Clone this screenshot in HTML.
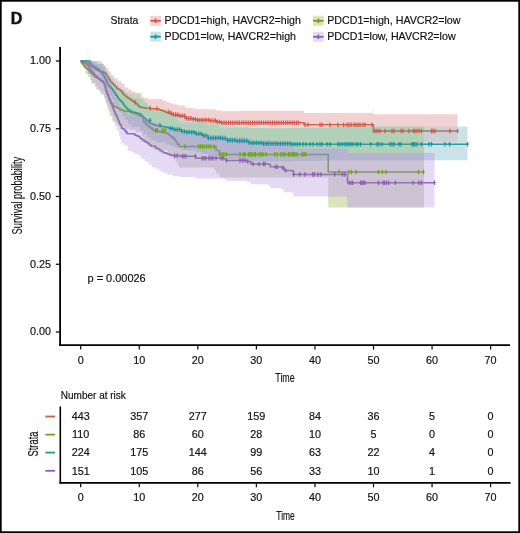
<!DOCTYPE html>
<html><head><meta charset="utf-8"><style>
html,body{margin:0;padding:0;background:#fff;width:520px;height:533px;overflow:hidden;position:relative}
</style></head><body>
<svg width="520" height="533" viewBox="0 0 520 533" style="position:absolute;left:0;top:0;will-change:transform">
<rect x="0" y="0" width="520" height="533" fill="#fff"/>
<path d="M80.70,61.00 H86.50 V61.50 H87.23 V62.78 H88.68 V64.06 H90.12 V65.35 H91.58 V66.63 H93.01 V67.60 H94.44 V68.56 H95.86 V69.53 H97.29 V70.50 H98.78 V70.90 H100.35 V71.30 H101.92 V71.70 H103.58 V72.85 H105.33 V74.00 H106.58 V75.33 H107.35 V76.67 H108.12 V78.00 H109.08 V79.75 H110.22 V81.50 H111.65 V83.25 H113.35 V85.00 H115.08 V86.70 H116.83 V88.40 H118.58 V89.55 H120.33 V90.70 H121.77 V92.23 H122.90 V93.77 H124.03 V95.30 H125.45 V96.50 H127.15 V97.70 H128.88 V98.85 H130.62 V100.00 H132.38 V101.15 H134.12 V102.30 H135.62 V103.45 H136.88 V104.60 H138.12 V105.75 H139.38 V106.90 H140.70 V107.18 H142.10 V107.46 H143.50 V107.74 H144.90 V108.02 H146.30 V108.30 H150.40 V108.69 H157.30 V108.80 H157.95 V109.25 H159.25 V109.70 H160.55 V110.15 H161.85 V110.60 H163.38 V111.30 H165.12 V112.00 H166.85 V112.60 H168.55 V113.20 H170.00 V113.63 H171.20 V114.07 H172.40 V114.50 H173.62 V114.83 H174.88 V115.15 H176.12 V115.47 H177.38 V115.80 H185.00 V118.40 H192.00 V119.20 H197.00 V120.00 H209.20 V120.60 H216.00 V121.80 H221.30 V122.70 H304.00 V124.70 H373.40 V131.00 H457.50" fill="none" stroke="#D7574B" stroke-width="1.50"/>
<path d="M80.70,61.00 H81.35 V62.70 H82.57 V64.23 H83.70 V65.77 H84.83 V67.30 H85.98 V68.15 H87.12 V69.00 H88.28 V70.33 H89.45 V71.67 H90.62 V73.00 H91.97 V74.37 H93.50 V75.73 H95.03 V77.10 H96.57 V77.87 H98.10 V78.63 H99.63 V79.40 H101.25 V80.95 H102.95 V82.50 H104.03 V83.90 H104.47 V85.30 H104.92 V86.70 H105.38 V88.10 H105.84 V89.52 H106.31 V90.95 H106.79 V92.38 H107.26 V93.80 H107.74 V95.20 H108.21 V96.60 H108.69 V98.00 H109.16 V99.40 H109.87 V100.97 H110.80 V102.53 H111.73 V104.10 H113.15 V106.00 H114.72 V106.63 H115.95 V107.27 H117.18 V107.90 H118.43 V108.50 H119.70 V109.10 H120.97 V109.70 H122.23 V110.20 H123.50 V110.70 H124.77 V111.20 H130.00 V112.10 H130.71 V112.45 H132.14 V112.80 H133.56 V113.15 H134.99 V113.50 H136.42 V114.25 H137.88 V115.00 H139.33 V115.75 H140.78 V116.50 H142.30 V117.70 H143.50 V121.20 H144.07 V122.35 H145.23 V123.50 H146.38 V124.65 H147.53 V125.80 H148.95 V126.95 H150.65 V128.10 H152.07 V129.25 H153.23 V130.40 H154.50 V130.69 H155.89 V130.98 H157.28 V131.27 H158.67 V131.56 H160.06 V131.85 H161.44 V132.14 H162.84 V132.43 H164.22 V132.72 H165.62 V133.01 H167.00 V133.30 H168.27 V134.45 H169.43 V135.60 H170.88 V136.75 H172.62 V137.90 H174.07 V139.35 H175.23 V140.80 H176.35 V142.50 H177.45 V144.20 H179.20 V146.50 H214.40 V146.60 H216.10 V150.40 H219.60 V154.40 H328.20 V172.00 H424.00" fill="none" stroke="#6EA51E" stroke-width="1.50"/>
<path d="M80.70,61.00 H90.00 V62.10 H90.58 V63.77 H91.72 V65.43 H93.01 V66.27 H94.44 V67.12 H95.86 V67.96 H97.29 V68.80 H98.88 V70.55 H100.62 V72.30 H102.08 V74.00 H103.22 V75.70 H104.20 V77.23 H105.00 V78.77 H105.80 V80.30 H106.58 V81.87 H107.35 V83.43 H108.12 V85.00 H109.35 V86.70 H111.05 V88.40 H112.48 V90.15 H113.62 V91.90 H114.77 V93.60 H115.92 V95.30 H117.08 V97.05 H118.22 V98.80 H119.67 V100.55 H121.42 V102.30 H122.87 V104.00 H124.02 V105.70 H125.45 V107.45 H127.15 V109.20 H128.88 V110.35 H130.62 V111.50 H132.21 V111.88 H133.62 V112.27 H135.04 V112.65 H136.46 V113.03 H137.88 V113.42 H139.29 V113.80 H140.88 V115.55 H142.62 V117.30 H144.38 V118.85 H146.12 V120.40 H147.85 V121.90 H149.55 V123.39 H151.05 V123.87 H152.35 V124.34 H153.65 V124.82 H154.95 V125.30 H156.34 V125.54 H157.83 V125.79 H159.31 V126.03 H160.80 V126.27 H162.29 V126.51 H163.77 V126.76 H165.26 V127.00 H166.67 V127.43 H168.00 V127.87 H169.33 V128.30 H170.77 V128.73 H172.30 V129.17 H173.83 V129.60 H181.50 V131.50 H186.00 V132.20 H196.00 V133.70 H202.00 V135.60 H208.00 V138.00 H221.50 V138.50 H227.30 V140.40 H235.00 V141.00 H248.70 V142.80 H262.50 V143.60 H292.00 V144.20 H467.50" fill="none" stroke="#1A969F" stroke-width="1.50"/>
<path d="M80.70,61.00 H81.58 V61.85 H83.33 V62.70 H85.08 V63.85 H86.83 V65.00 H88.27 V66.75 H89.42 V68.50 H90.58 V70.20 H91.72 V71.90 H92.87 V73.05 H94.02 V74.20 H95.45 V75.95 H97.15 V77.70 H98.65 V78.83 H99.95 V79.97 H101.25 V81.10 H102.85 V82.50 H104.70 V85.30 H105.60 V89.10 H105.92 V90.67 H106.55 V92.23 H107.18 V93.80 H107.82 V95.37 H108.45 V96.93 H109.08 V98.50 H109.72 V100.07 H110.35 V101.63 H110.98 V103.20 H111.60 V104.77 H112.20 V106.33 H112.80 V107.90 H113.42 V109.47 H114.05 V111.03 H114.68 V112.60 H115.32 V113.83 H115.95 V115.07 H116.58 V116.30 H117.22 V117.87 H117.85 V119.43 H118.48 V121.00 H119.03 V122.27 H119.50 V123.53 H119.97 V124.80 H121.30 V127.90 H122.03 V128.55 H123.47 V129.20 H124.78 V130.70 H125.95 V132.20 H127.12 V133.70 H134.60 V134.80 H135.37 V135.37 H136.90 V135.93 H138.43 V136.50 H139.77 V137.65 H140.93 V138.80 H142.38 V140.00 H144.12 V141.20 H145.88 V142.35 H147.62 V143.50 H149.38 V144.90 H151.12 V146.30 H155.40 V147.50 H156.25 V148.35 H157.95 V149.20 H159.80 V150.40 H161.60 V151.45 H163.20 V152.50 H164.62 V152.93 H165.85 V153.37 H167.08 V153.80 H168.35 V154.25 H169.65 V154.70 H170.95 V155.15 H172.25 V155.60 H180.00 V156.30 H195.60 V158.20 H224.00 V158.70 H226.00 V160.40 H247.00 V161.50 H250.80 V164.00 H268.00 V164.20 H270.30 V166.80 H281.50 V167.80 H284.00 V170.50 H292.50 V171.00 H293.50 V174.40 H347.50 V174.30 V182.70 H434.50" fill="none" stroke="#8C5FB4" stroke-width="1.50"/>
<path d="M80.70,61.00 L82.00,61.00 L82.00,61.00 L85.00,61.00 L85.00,61.00 L85.40,61.00 L85.40,61.00 L87.70,61.00 L87.70,61.00 L91.20,61.00 L91.20,62.89 L92.00,62.89 L92.00,62.42 L95.80,62.42 L95.80,64.16 L100.00,64.16 L100.00,61.33 L100.40,61.33 L100.40,63.62 L103.80,63.62 L103.80,65.55 L105.60,65.55 L105.60,70.83 L107.50,70.83 L107.50,76.21 L109.40,76.21 L109.40,81.51 L110.00,81.51 L110.00,81.28 L112.20,81.28 L112.20,86.08 L114.10,86.08 L114.10,87.90 L117.80,87.90 L117.80,89.50 L121.60,89.50 L121.60,90.99 L125.40,90.99 L125.40,92.16 L130.00,92.16 L130.00,92.59 L135.70,92.59 L135.70,93.09 L141.50,93.09 L141.50,95.35 L142.30,95.35 L142.30,96.52 L143.50,96.52 L143.50,100.16 L145.80,100.16 L145.80,102.29 L148.10,102.29 L148.10,104.44 L150.00,104.44 L150.00,104.11 L151.50,104.11 L151.50,106.43 L153.80,106.43 L153.80,108.63 L167.70,108.63 L167.70,109.79 L170.00,109.79 L170.00,112.03 L173.50,112.03 L173.50,114.10 L175.80,114.10 L175.80,117.02 L178.00,117.02 L178.00,120.54 L179.20,120.54 L179.20,122.96 L180.00,122.96 L180.00,122.85 L214.40,122.85 L214.40,119.33 L216.10,119.33 L216.10,123.52 L219.60,123.52 L219.60,127.75 L220.00,127.75 L220.00,127.71 L328.00,127.71 L328.00,125.56 L328.20,125.56 L328.20,132.67 L328.30,132.67 L328.30,126.35 L424.00,126.35 L424.00,126.35 L424.00,207.52 L424.00,207.52 L328.30,207.52 L328.30,203.57 L328.20,203.57 L328.20,179.21 L328.00,179.21 L328.00,177.60 L220.00,177.60 L220.00,177.57 L219.60,177.57 L219.60,173.82 L216.10,173.82 L216.10,170.37 L214.40,170.37 L214.40,167.48 L180.00,167.48 L180.00,167.39 L179.20,167.39 L179.20,165.22 L178.00,165.22 L178.00,161.95 L175.80,161.95 L175.80,159.10 L173.50,159.10 L173.50,156.64 L170.00,156.64 L170.00,154.32 L167.70,154.32 L167.70,150.05 L153.80,150.05 L153.80,147.69 L151.50,147.69 L151.50,145.42 L150.00,145.42 L150.00,145.16 L148.10,145.16 L148.10,142.75 L145.80,142.75 L145.80,140.33 L143.50,140.33 L143.50,136.97 L142.30,136.97 L142.30,135.76 L141.50,135.76 L141.50,132.16 L135.70,132.16 L135.70,130.02 L130.00,130.02 L130.00,128.73 L125.40,128.73 L125.40,126.96 L121.60,126.96 L121.60,124.90 L117.80,124.90 L117.80,122.76 L114.10,122.76 L114.10,120.80 L112.20,120.80 L112.20,116.21 L110.00,116.21 L110.00,116.02 L109.40,116.02 L109.40,110.18 L107.50,110.18 L107.50,104.23 L105.60,104.23 L105.60,98.37 L103.80,98.37 L103.80,94.26 L100.40,94.26 L100.40,91.95 L100.00,91.95 L100.00,89.42 L95.80,89.42 L95.80,83.16 L92.00,83.16 L92.00,82.73 L91.20,82.73 L91.20,76.98 L87.70,76.98 L87.70,74.06 L85.40,74.06 L85.40,69.35 L85.00,69.35 L85.00,65.39 L82.00,65.39 L82.00,61.96 L80.70,61.96 Z" fill="#82A51A" fill-opacity="0.30" stroke="none"/>
<path d="M80.70,61.00 L85.00,61.00 L85.00,61.00 L90.00,61.00 L90.00,61.00 L92.30,61.00 L92.30,61.00 L98.00,61.00 L98.00,61.32 L101.50,61.32 L101.50,63.99 L103.80,63.99 L103.80,66.89 L105.00,66.89 L105.00,66.57 L106.20,66.57 L106.20,71.02 L108.50,71.02 L108.50,75.30 L111.90,75.30 L111.90,77.97 L114.20,77.97 L114.20,81.05 L116.50,81.05 L116.50,84.03 L118.80,84.03 L118.80,87.14 L120.00,87.14 L120.00,86.84 L122.30,86.84 L122.30,89.96 L124.60,89.96 L124.60,93.00 L128.00,93.00 L128.00,95.89 L130.00,95.89 L130.00,95.42 L131.50,95.42 L131.50,97.69 L140.00,97.69 L140.00,99.15 L143.50,99.15 L143.50,102.87 L147.00,102.87 L147.00,106.16 L150.40,106.16 L150.40,109.34 L155.60,109.34 L155.60,111.36 L166.00,111.36 L166.00,113.14 L170.00,113.14 L170.00,114.51 L174.60,114.51 L174.60,115.88 L180.00,115.88 L180.00,115.86 L181.50,115.86 L181.50,117.89 L186.00,117.89 L186.00,118.62 L196.00,118.62 L196.00,120.18 L200.00,120.18 L200.00,120.17 L202.00,120.17 L202.00,122.12 L208.00,122.12 L208.00,124.43 L215.00,124.43 L215.00,124.14 L221.50,124.14 L221.50,124.41 L227.30,124.41 L227.30,126.21 L230.00,126.21 L230.00,126.10 L235.00,126.10 L235.00,126.55 L248.70,126.55 L248.70,127.97 L262.00,127.97 L262.00,127.46 L262.50,127.46 L262.50,128.31 L292.00,128.31 L292.00,127.84 L300.00,127.84 L300.00,127.54 L330.00,127.54 L330.00,126.51 L467.50,126.51 L467.50,126.51 L467.50,160.36 L467.50,160.36 L330.00,160.36 L330.00,160.71 L300.00,160.71 L300.00,160.99 L292.00,160.99 L292.00,161.51 L262.50,161.51 L262.50,160.80 L262.00,160.80 L262.00,160.80 L248.70,160.80 L248.70,159.18 L235.00,159.18 L235.00,158.63 L230.00,158.63 L230.00,158.63 L227.30,158.63 L227.30,156.91 L221.50,156.91 L221.50,156.46 L215.00,156.46 L215.00,156.29 L208.00,156.29 L208.00,153.96 L202.00,153.96 L202.00,152.19 L200.00,152.19 L200.00,152.08 L196.00,152.08 L196.00,150.46 L186.00,150.46 L186.00,149.71 L181.50,149.71 L181.50,147.94 L180.00,147.94 L180.00,147.57 L174.60,147.57 L174.60,146.07 L170.00,146.07 L170.00,144.60 L166.00,144.60 L166.00,142.31 L155.60,142.31 L155.60,140.18 L150.40,140.18 L150.40,137.18 L147.00,137.18 L147.00,134.07 L143.50,134.07 L143.50,130.58 L140.00,130.58 L140.00,126.72 L131.50,126.72 L131.50,124.26 L130.00,124.26 L130.00,123.85 L128.00,123.85 L128.00,119.86 L124.60,119.86 L124.60,116.18 L122.30,116.18 L122.30,112.38 L120.00,112.38 L120.00,112.03 L118.80,112.03 L118.80,108.04 L116.50,108.04 L116.50,104.13 L114.20,104.13 L114.20,100.10 L111.90,100.10 L111.90,95.79 L108.50,95.79 L108.50,90.56 L106.20,90.56 L106.20,85.75 L105.00,85.75 L105.00,85.36 L103.80,85.36 L103.80,81.32 L101.50,81.32 L101.50,76.75 L98.00,76.75 L98.00,71.51 L92.30,71.51 L92.30,67.45 L90.00,67.45 L90.00,64.24 L85.00,64.24 L85.00,61.46 L80.70,61.46 Z" fill="#52A2AF" fill-opacity="0.30" stroke="none"/>
<path d="M80.70,61.00 L84.20,61.00 L84.20,61.00 L85.00,61.00 L85.00,61.00 L87.70,61.00 L87.70,61.00 L90.00,61.00 L90.00,61.00 L92.30,61.00 L92.30,61.00 L94.60,61.00 L94.60,61.21 L98.00,61.21 L98.00,64.07 L100.00,64.07 L100.00,63.59 L101.90,63.59 L101.90,67.09 L103.80,67.09 L103.80,68.47 L104.70,68.47 L104.70,71.39 L105.60,71.39 L105.60,75.36 L107.50,75.36 L107.50,80.24 L109.40,80.24 L109.40,85.12 L111.00,85.12 L111.00,85.05 L111.30,85.05 L111.30,89.86 L113.10,89.86 L113.10,93.93 L115.00,93.93 L115.00,97.99 L116.90,97.99 L116.90,101.01 L118.80,101.01 L118.80,105.14 L120.00,105.14 L120.00,104.56 L120.20,104.56 L120.20,108.56 L121.30,108.56 L121.30,111.40 L124.20,111.40 L124.20,111.48 L127.70,111.48 L127.70,114.79 L132.00,114.79 L132.00,112.84 L134.60,112.84 L134.60,113.43 L139.20,113.43 L139.20,114.20 L141.50,114.20 L141.50,116.21 L145.00,116.21 L145.00,118.06 L148.50,118.06 L148.50,119.82 L150.00,119.82 L150.00,119.47 L152.00,119.47 L152.00,122.41 L155.40,122.41 L155.40,123.41 L158.80,123.41 L158.80,124.98 L160.00,124.98 L160.00,124.86 L160.80,124.86 L160.80,126.22 L164.00,126.22 L164.00,128.60 L167.70,128.60 L167.70,130.07 L172.90,130.07 L172.90,132.11 L180.00,132.11 L180.00,132.91 L195.60,132.91 L195.60,135.06 L200.00,135.06 L200.00,135.06 L224.00,135.06 L224.00,135.34 L226.00,135.34 L226.00,137.25 L247.00,137.25 L247.00,138.25 L250.00,138.25 L250.00,138.22 L250.80,138.22 L250.80,140.98 L268.00,140.98 L268.00,139.52 L270.30,139.52 L270.30,142.28 L281.50,142.28 L281.50,142.35 L284.00,142.35 L284.00,145.22 L292.50,145.22 L292.50,144.99 L293.00,144.99 L293.00,144.94 L293.50,144.94 L293.50,148.84 L347.00,148.84 L347.00,143.13 L347.50,143.13 L347.50,153.08 L434.50,153.08 L434.50,153.08 L434.50,207.42 L434.50,207.42 L347.50,207.42 L347.50,200.49 L347.00,200.49 L347.00,196.39 L293.50,196.39 L293.50,193.43 L293.00,193.43 L293.00,193.39 L292.50,193.39 L292.50,192.35 L284.00,192.35 L284.00,189.84 L281.50,189.84 L281.50,188.15 L270.30,188.15 L270.30,185.71 L268.00,185.71 L268.00,184.25 L250.80,184.25 L250.80,181.99 L250.00,181.99 L250.00,181.96 L247.00,181.96 L247.00,180.80 L226.00,180.80 L226.00,179.28 L224.00,179.28 L224.00,178.62 L200.00,178.62 L200.00,178.62 L195.60,178.62 L195.60,176.95 L180.00,176.95 L180.00,176.33 L172.90,176.33 L172.90,174.74 L167.70,174.74 L167.70,173.59 L164.00,173.59 L164.00,171.74 L160.80,171.74 L160.80,170.68 L160.00,170.68 L160.00,170.58 L158.80,170.58 L158.80,168.81 L155.40,168.81 L155.40,167.46 L152.00,167.46 L152.00,164.82 L150.00,164.82 L150.00,164.54 L148.50,164.54 L148.50,161.83 L145.00,161.83 L145.00,159.02 L141.50,159.02 L141.50,156.52 L139.20,156.52 L139.20,154.08 L134.60,154.08 L134.60,152.57 L132.00,152.57 L132.00,150.96 L127.70,150.96 L127.70,145.50 L124.20,145.50 L124.20,143.16 L121.30,143.16 L121.30,139.86 L120.20,139.86 L120.20,136.25 L120.00,136.25 L120.00,135.75 L118.80,135.75 L118.80,130.58 L116.90,130.58 L116.90,126.30 L115.00,126.30 L115.00,121.05 L113.10,121.05 L113.10,115.80 L111.30,115.80 L111.30,111.22 L111.00,111.22 L111.00,111.15 L109.40,111.15 L109.40,106.63 L107.50,106.63 L107.50,102.10 L105.60,102.10 L105.60,98.47 L104.70,98.47 L104.70,95.78 L103.80,95.78 L103.80,94.37 L101.90,94.37 L101.90,91.07 L100.00,91.07 L100.00,90.64 L98.00,90.64 L98.00,86.56 L94.60,86.56 L94.60,83.86 L92.30,83.86 L92.30,80.10 L90.00,80.10 L90.00,73.81 L87.70,73.81 L87.70,68.05 L85.00,68.05 L85.00,67.20 L84.20,67.20 L84.20,61.77 L80.70,61.77 Z" fill="#AA88C4" fill-opacity="0.30" stroke="none"/>
<path d="M80.70,61.00 L84.20,61.00 L84.20,61.00 L85.00,61.00 L85.00,61.00 L87.70,61.00 L87.70,61.00 L90.00,61.00 L90.00,61.00 L92.30,61.00 L92.30,61.00 L94.60,61.00 L94.60,61.21 L98.00,61.21 L98.00,64.07 L100.00,64.07 L100.00,63.59 L101.90,63.59 L101.90,67.09 L103.80,67.09 L103.80,68.47 L104.70,68.47 L104.70,71.39 L105.60,71.39 L105.60,75.36 L107.50,75.36 L107.50,80.24 L109.40,80.24 L109.40,85.12 L111.00,85.12 L111.00,85.05 L111.30,85.05 L111.30,89.86 L113.10,89.86 L113.10,93.93 L115.00,93.93 L115.00,97.99 L116.90,97.99 L116.90,101.01 L118.80,101.01 L118.80,105.14 L120.00,105.14 L120.00,104.56 L120.20,104.56 L120.20,108.56 L121.30,108.56 L121.30,111.40 L124.20,111.40 L124.20,111.48 L127.70,111.48 L127.70,114.79 L132.00,114.79 L132.00,112.84 L134.60,112.84 L134.60,113.43 L139.20,113.43 L139.20,114.20 L141.50,114.20 L141.50,116.21 L145.00,116.21 L145.00,118.06 L148.50,118.06 L148.50,119.82 L150.00,119.82 L150.00,119.47 L152.00,119.47 L152.00,122.41 L155.40,122.41 L155.40,123.41 L158.80,123.41 L158.80,124.98 L160.00,124.98 L160.00,124.86 L160.80,124.86 L160.80,126.22 L164.00,126.22 L164.00,128.60 L167.70,128.60 L167.70,130.07 L172.90,130.07 L172.90,132.11 L180.00,132.11 L180.00,132.91 L195.60,132.91 L195.60,135.06 L200.00,135.06 L200.00,135.06 L224.00,135.06 L224.00,135.34 L226.00,135.34 L226.00,137.25 L247.00,137.25 L247.00,138.25 L250.00,138.25 L250.00,138.22 L250.80,138.22 L250.80,140.98 L268.00,140.98 L268.00,139.52 L270.30,139.52 L270.30,142.28 L281.50,142.28 L281.50,142.35 L284.00,142.35 L284.00,145.22 L292.50,145.22 L292.50,144.99 L293.00,144.99 L293.00,144.94 L293.50,144.94 L293.50,148.84 L347.00,148.84 L347.00,143.13 L347.50,143.13 L347.50,153.08 L434.50,153.08 L434.50,153.08 L434.50,207.42 L434.50,207.42 L347.50,207.42 L347.50,200.49 L347.00,200.49 L347.00,196.39 L293.50,196.39 L293.50,193.43 L293.00,193.43 L293.00,193.39 L292.50,193.39 L292.50,192.35 L284.00,192.35 L284.00,189.84 L281.50,189.84 L281.50,188.15 L270.30,188.15 L270.30,185.71 L268.00,185.71 L268.00,184.25 L250.80,184.25 L250.80,181.99 L250.00,181.99 L250.00,181.96 L247.00,181.96 L247.00,180.80 L226.00,180.80 L226.00,179.28 L224.00,179.28 L224.00,178.62 L200.00,178.62 L200.00,178.62 L195.60,178.62 L195.60,176.95 L180.00,176.95 L180.00,176.33 L172.90,176.33 L172.90,174.74 L167.70,174.74 L167.70,173.59 L164.00,173.59 L164.00,171.74 L160.80,171.74 L160.80,170.68 L160.00,170.68 L160.00,170.58 L158.80,170.58 L158.80,168.81 L155.40,168.81 L155.40,167.46 L152.00,167.46 L152.00,164.82 L150.00,164.82 L150.00,164.54 L148.50,164.54 L148.50,161.83 L145.00,161.83 L145.00,159.02 L141.50,159.02 L141.50,156.52 L139.20,156.52 L139.20,154.08 L134.60,154.08 L134.60,152.57 L132.00,152.57 L132.00,150.96 L127.70,150.96 L127.70,145.50 L124.20,145.50 L124.20,143.16 L121.30,143.16 L121.30,139.86 L120.20,139.86 L120.20,136.25 L120.00,136.25 L120.00,135.75 L118.80,135.75 L118.80,130.58 L116.90,130.58 L116.90,126.30 L115.00,126.30 L115.00,121.05 L113.10,121.05 L113.10,115.80 L111.30,115.80 L111.30,111.22 L111.00,111.22 L111.00,111.15 L109.40,111.15 L109.40,106.63 L107.50,106.63 L107.50,102.10 L105.60,102.10 L105.60,98.47 L104.70,98.47 L104.70,95.78 L103.80,95.78 L103.80,94.37 L101.90,94.37 L101.90,91.07 L100.00,91.07 L100.00,90.64 L98.00,90.64 L98.00,86.56 L94.60,86.56 L94.60,83.86 L92.30,83.86 L92.30,80.10 L90.00,80.10 L90.00,73.81 L87.70,73.81 L87.70,68.05 L85.00,68.05 L85.00,67.20 L84.20,67.20 L84.20,61.77 L80.70,61.77 Z" fill="#9278CA" opacity="0.35" style="mix-blend-mode:color" stroke="none"/>
<path d="M80.70,61.00 L85.00,61.00 L85.00,61.00 L86.50,61.00 L86.50,61.00 L90.00,61.00 L90.00,61.00 L92.30,61.00 L92.30,62.33 L98.00,62.33 L98.00,65.55 L102.70,65.55 L102.70,66.19 L105.00,66.19 L105.00,65.91 L106.20,65.91 L106.20,68.09 L108.50,68.09 L108.50,71.86 L110.80,71.86 L110.80,75.13 L114.20,75.13 L114.20,78.26 L117.70,78.26 L117.70,81.29 L120.00,81.29 L120.00,80.98 L121.20,80.98 L121.20,83.19 L124.60,83.19 L124.60,87.49 L128.00,87.49 L128.00,89.53 L131.50,89.53 L131.50,91.46 L135.00,91.46 L135.00,93.40 L140.00,93.40 L140.00,97.95 L147.00,97.95 L147.00,99.08 L150.40,99.08 L150.40,99.32 L157.30,99.32 L157.30,99.12 L160.00,99.12 L160.00,98.99 L162.50,98.99 L162.50,100.77 L166.00,100.77 L166.00,102.09 L169.40,102.09 L169.40,103.21 L173.00,103.21 L173.00,104.43 L178.00,104.43 L178.00,105.59 L185.00,105.59 L185.00,108.04 L192.00,108.04 L192.00,108.60 L197.00,108.60 L197.00,109.25 L200.00,109.25 L200.00,109.13 L209.20,109.13 L209.20,109.45 L216.00,109.45 L216.00,110.49 L221.30,110.49 L221.30,111.26 L240.00,111.26 L240.00,110.64 L303.00,110.64 L303.00,110.98 L304.00,110.98 L304.00,113.01 L373.00,113.01 L373.00,107.43 L373.40,107.43 L373.40,114.26 L457.50,114.26 L457.50,114.26 L457.50,141.95 L457.50,141.95 L373.40,141.95 L373.40,135.99 L373.00,135.99 L373.00,135.22 L304.00,135.22 L304.00,133.31 L303.00,133.31 L303.00,133.31 L240.00,133.31 L240.00,132.93 L221.30,132.93 L221.30,131.97 L216.00,131.97 L216.00,130.69 L209.20,130.69 L209.20,129.94 L200.00,129.94 L200.00,129.86 L197.00,129.86 L197.00,128.97 L192.00,128.97 L192.00,128.03 L185.00,128.03 L185.00,125.37 L178.00,125.37 L178.00,123.99 L173.00,123.99 L173.00,122.66 L169.40,122.66 L169.40,121.42 L166.00,121.42 L166.00,119.98 L162.50,119.98 L162.50,118.19 L160.00,118.19 L160.00,118.08 L157.30,118.08 L157.30,117.68 L150.40,117.68 L150.40,117.16 L147.00,117.16 L147.00,115.51 L140.00,115.51 L140.00,110.87 L135.00,110.87 L135.00,108.23 L131.50,108.23 L131.50,105.59 L128.00,105.59 L128.00,102.86 L124.60,102.86 L124.60,97.98 L121.20,97.98 L121.20,95.60 L120.00,95.60 L120.00,95.31 L117.70,95.31 L117.70,91.56 L114.20,91.56 L114.20,87.71 L110.80,87.71 L110.80,83.99 L108.50,83.99 L108.50,79.78 L106.20,79.78 L106.20,77.37 L105.00,77.37 L105.00,77.09 L102.70,77.09 L102.70,75.35 L98.00,75.35 L98.00,70.86 L92.30,70.86 L92.30,65.53 L90.00,65.53 L90.00,64.60 L86.50,64.60 L86.50,63.70 L85.00,63.70 L85.00,61.38 L80.70,61.38 Z" fill="#F1D1D2" style="mix-blend-mode:darken" stroke="none"/>
<path d="M135.00,100.00V104.60M133.70,102.30H136.30M150.00,106.00V110.60M148.70,108.30H151.30M157.00,106.39V110.99M155.70,108.69H158.30M169.00,109.70V114.30M167.70,112.00H170.30M171.20,110.90V115.50M169.90,113.20H172.50M173.40,112.20V116.80M172.10,114.50H174.70M175.60,112.20V116.80M174.30,114.50H176.90M177.80,112.20V116.80M176.50,114.50H179.10M180.00,113.50V118.10M178.70,115.80H181.30M182.20,113.50V118.10M180.90,115.80H183.50M184.40,113.50V118.10M183.10,115.80H185.70M186.60,116.10V120.70M185.30,118.40H187.90M188.80,116.10V120.70M187.50,118.40H190.10M191.00,116.10V120.70M189.70,118.40H192.30M193.20,116.90V121.50M191.90,119.20H194.50M195.40,116.90V121.50M194.10,119.20H196.70M197.60,117.70V122.30M196.30,120.00H198.90M199.80,117.70V122.30M198.50,120.00H201.10M202.00,117.70V122.30M200.70,120.00H203.30M204.20,117.70V122.30M202.90,120.00H205.50M206.40,117.70V122.30M205.10,120.00H207.70M208.60,117.70V122.30M207.30,120.00H209.90M210.80,118.30V122.90M209.50,120.60H212.10M213.00,118.30V122.90M211.70,120.60H214.30M215.20,118.30V122.90M213.90,120.60H216.50M217.40,119.50V124.10M216.10,121.80H218.70M219.60,119.50V124.10M218.30,121.80H220.90M221.80,120.40V125.00M220.50,122.70H223.10M224.00,120.40V125.00M222.70,122.70H225.30M226.20,120.40V125.00M224.90,122.70H227.50M228.40,120.40V125.00M227.10,122.70H229.70M230.60,120.40V125.00M229.30,122.70H231.90M232.80,120.40V125.00M231.50,122.70H234.10M235.00,120.40V125.00M233.70,122.70H236.30M237.20,120.40V125.00M235.90,122.70H238.50M239.40,120.40V125.00M238.10,122.70H240.70M241.60,120.40V125.00M240.30,122.70H242.90M243.80,120.40V125.00M242.50,122.70H245.10M246.00,120.40V125.00M244.70,122.70H247.30M248.20,120.40V125.00M246.90,122.70H249.50M250.40,120.40V125.00M249.10,122.70H251.70M252.60,120.40V125.00M251.30,122.70H253.90M254.80,120.40V125.00M253.50,122.70H256.10M257.00,120.40V125.00M255.70,122.70H258.30M259.20,120.40V125.00M257.90,122.70H260.50M261.40,120.40V125.00M260.10,122.70H262.70M263.60,120.40V125.00M262.30,122.70H264.90M265.80,120.40V125.00M264.50,122.70H267.10M268.00,120.40V125.00M266.70,122.70H269.30M270.20,120.40V125.00M268.90,122.70H271.50M272.40,120.40V125.00M271.10,122.70H273.70M274.60,120.40V125.00M273.30,122.70H275.90M276.80,120.40V125.00M275.50,122.70H278.10M279.00,120.40V125.00M277.70,122.70H280.30M281.20,120.40V125.00M279.90,122.70H282.50M283.40,120.40V125.00M282.10,122.70H284.70M285.60,120.40V125.00M284.30,122.70H286.90M287.80,120.40V125.00M286.50,122.70H289.10M290.00,120.40V125.00M288.70,122.70H291.30M292.20,120.40V125.00M290.90,122.70H293.50M294.40,120.40V125.00M293.10,122.70H295.70M296.60,120.40V125.00M295.30,122.70H297.90M298.80,120.40V125.00M297.50,122.70H300.10M305.00,122.40V127.00M303.70,124.70H306.30M308.00,122.40V127.00M306.70,124.70H309.30M320.00,122.40V127.00M318.70,124.70H321.30M322.00,122.40V127.00M320.70,124.70H323.30M330.00,122.40V127.00M328.70,124.70H331.30M338.00,122.40V127.00M336.70,124.70H339.30M343.60,122.40V127.00M342.30,124.70H344.90M347.00,122.40V127.00M345.70,124.70H348.30M349.00,122.40V127.00M347.70,124.70H350.30M351.00,122.40V127.00M349.70,124.70H352.30M354.00,122.40V127.00M352.70,124.70H355.30M356.00,122.40V127.00M354.70,124.70H357.30M358.00,122.40V127.00M356.70,124.70H359.30M360.00,122.40V127.00M358.70,124.70H361.30M363.00,122.40V127.00M361.70,124.70H364.30M365.00,122.40V127.00M363.70,124.70H366.30M372.00,122.40V127.00M370.70,124.70H373.30M374.00,128.70V133.30M372.70,131.00H375.30M376.00,128.70V133.30M374.70,131.00H377.30M378.00,128.70V133.30M376.70,131.00H379.30M380.00,128.70V133.30M378.70,131.00H381.30M385.00,128.70V133.30M383.70,131.00H386.30M392.00,128.70V133.30M390.70,131.00H393.30M394.00,128.70V133.30M392.70,131.00H395.30M401.00,128.70V133.30M399.70,131.00H402.30M403.00,128.70V133.30M401.70,131.00H404.30M409.00,128.70V133.30M407.70,131.00H410.30M413.50,128.70V133.30M412.20,131.00H414.80M415.00,128.70V133.30M413.70,131.00H416.30M417.00,128.70V133.30M415.70,131.00H418.30M419.00,128.70V133.30M417.70,131.00H420.30M421.40,128.70V133.30M420.10,131.00H422.70M431.50,128.70V133.30M430.20,131.00H432.80M433.00,128.70V133.30M431.70,131.00H434.30M435.00,128.70V133.30M433.70,131.00H436.30M450.00,128.70V133.30M448.70,131.00H451.30M457.50,128.70V133.30M456.20,131.00H458.80" stroke="#D7574B" stroke-width="1.2" fill="none"/>
<path d="M155.60,128.10V132.70M154.30,130.40H156.90M157.30,128.10V132.70M156.00,130.40H158.60M162.50,128.10V132.70M161.20,130.40H163.80M165.00,128.10V132.70M163.70,130.40H166.30M185.00,144.20V148.80M183.70,146.50H186.30M198.80,144.20V148.80M197.50,146.50H200.10M200.50,144.20V148.80M199.20,146.50H201.80M202.30,144.20V148.80M201.00,146.50H203.60M204.00,144.20V148.80M202.70,146.50H205.30M206.60,144.20V148.80M205.30,146.50H207.90M209.00,144.20V148.80M207.70,146.50H210.30M211.00,144.20V148.80M209.70,146.50H212.30M214.40,144.30V148.90M213.10,146.60H215.70M219.60,152.10V156.70M218.30,154.40H220.90M222.00,152.10V156.70M220.70,154.40H223.30M224.00,152.10V156.70M222.70,154.40H225.30M226.50,152.10V156.70M225.20,154.40H227.80M240.00,152.10V156.70M238.70,154.40H241.30M243.50,152.10V156.70M242.20,154.40H244.80M245.00,152.10V156.70M243.70,154.40H246.30M248.70,152.10V156.70M247.40,154.40H250.00M250.40,152.10V156.70M249.10,154.40H251.70M252.00,152.10V156.70M250.70,154.40H253.30M254.00,152.10V156.70M252.70,154.40H255.30M255.60,152.10V156.70M254.30,154.40H256.90M259.00,152.10V156.70M257.70,154.40H260.30M261.00,152.10V156.70M259.70,154.40H262.30M263.00,152.10V156.70M261.70,154.40H264.30M266.00,152.10V156.70M264.70,154.40H267.30M274.60,152.10V156.70M273.30,154.40H275.90M277.00,152.10V156.70M275.70,154.40H278.30M280.70,152.10V156.70M279.40,154.40H282.00M283.00,152.10V156.70M281.70,154.40H284.30M285.00,152.10V156.70M283.70,154.40H286.30M288.40,152.10V156.70M287.10,154.40H289.70M290.00,152.10V156.70M288.70,154.40H291.30M292.00,152.10V156.70M290.70,154.40H293.30M293.60,152.10V156.70M292.30,154.40H294.90M295.00,152.10V156.70M293.70,154.40H296.30M297.00,152.10V156.70M295.70,154.40H298.30M302.30,152.10V156.70M301.00,154.40H303.60M304.00,152.10V156.70M302.70,154.40H305.30M305.70,152.10V156.70M304.40,154.40H307.00M339.00,169.70V174.30M337.70,172.00H340.30M349.00,169.70V174.30M347.70,172.00H350.30M351.50,169.70V174.30M350.20,172.00H352.80M356.00,169.70V174.30M354.70,172.00H357.30M378.50,169.70V174.30M377.20,172.00H379.80M382.30,169.70V174.30M381.00,172.00H383.60M386.00,169.70V174.30M384.70,172.00H387.30M418.50,169.70V174.30M417.20,172.00H419.80M423.50,169.70V174.30M422.20,172.00H424.80" stroke="#6EA51E" stroke-width="1.2" fill="none"/>
<path d="M150.00,118.10V122.70M148.70,120.40H151.30M160.00,123.00V127.60M158.70,125.30H161.30M170.00,126.00V130.60M168.70,128.30H171.30M172.40,126.00V130.60M171.10,128.30H173.70M174.80,127.30V131.90M173.50,129.60H176.10M177.20,127.30V131.90M175.90,129.60H178.50M179.60,127.30V131.90M178.30,129.60H180.90M182.00,129.20V133.80M180.70,131.50H183.30M184.40,129.20V133.80M183.10,131.50H185.70M186.80,129.90V134.50M185.50,132.20H188.10M189.20,129.90V134.50M187.90,132.20H190.50M191.60,129.90V134.50M190.30,132.20H192.90M194.00,129.90V134.50M192.70,132.20H195.30M196.40,131.40V136.00M195.10,133.70H197.70M198.80,131.40V136.00M197.50,133.70H200.10M201.20,131.40V136.00M199.90,133.70H202.50M203.60,133.30V137.90M202.30,135.60H204.90M206.00,133.30V137.90M204.70,135.60H207.30M208.40,135.70V140.30M207.10,138.00H209.70M210.80,135.70V140.30M209.50,138.00H212.10M213.20,135.70V140.30M211.90,138.00H214.50M215.60,135.70V140.30M214.30,138.00H216.90M218.00,135.70V140.30M216.70,138.00H219.30M220.40,135.70V140.30M219.10,138.00H221.70M222.80,136.20V140.80M221.50,138.50H224.10M225.20,136.20V140.80M223.90,138.50H226.50M227.60,138.10V142.70M226.30,140.40H228.90M230.00,138.10V142.70M228.70,140.40H231.30M232.40,138.10V142.70M231.10,140.40H233.70M234.80,138.10V142.70M233.50,140.40H236.10M237.20,138.70V143.30M235.90,141.00H238.50M239.60,138.70V143.30M238.30,141.00H240.90M242.00,138.70V143.30M240.70,141.00H243.30M244.40,138.70V143.30M243.10,141.00H245.70M246.80,138.70V143.30M245.50,141.00H248.10M249.20,140.50V145.10M247.90,142.80H250.50M251.60,140.50V145.10M250.30,142.80H252.90M254.00,140.50V145.10M252.70,142.80H255.30M256.40,140.50V145.10M255.10,142.80H257.70M258.80,140.50V145.10M257.50,142.80H260.10M261.20,140.50V145.10M259.90,142.80H262.50M263.60,141.30V145.90M262.30,143.60H264.90M266.00,141.30V145.90M264.70,143.60H267.30M268.40,141.30V145.90M267.10,143.60H269.70M270.80,141.30V145.90M269.50,143.60H272.10M273.20,141.30V145.90M271.90,143.60H274.50M275.60,141.30V145.90M274.30,143.60H276.90M278.00,141.30V145.90M276.70,143.60H279.30M280.40,141.30V145.90M279.10,143.60H281.70M282.80,141.30V145.90M281.50,143.60H284.10M285.20,141.30V145.90M283.90,143.60H286.50M287.60,141.30V145.90M286.30,143.60H288.90M290.00,141.30V145.90M288.70,143.60H291.30M292.40,141.90V146.50M291.10,144.20H293.70M294.80,141.90V146.50M293.50,144.20H296.10M297.20,141.90V146.50M295.90,144.20H298.50M299.60,141.90V146.50M298.30,144.20H300.90M303.00,141.90V146.50M301.70,144.20H304.30M306.00,141.90V146.50M304.70,144.20H307.30M310.00,141.90V146.50M308.70,144.20H311.30M313.00,141.90V146.50M311.70,144.20H314.30M317.00,141.90V146.50M315.70,144.20H318.30M320.00,141.90V146.50M318.70,144.20H321.30M322.00,141.90V146.50M320.70,144.20H323.30M327.00,141.90V146.50M325.70,144.20H328.30M330.00,141.90V146.50M328.70,144.20H331.30M338.00,141.90V146.50M336.70,144.20H339.30M340.00,141.90V146.50M338.70,144.20H341.30M342.50,141.90V146.50M341.20,144.20H343.80M345.00,141.90V146.50M343.70,144.20H346.30M347.00,141.90V146.50M345.70,144.20H348.30M349.00,141.90V146.50M347.70,144.20H350.30M351.00,141.90V146.50M349.70,144.20H352.30M353.00,141.90V146.50M351.70,144.20H354.30M356.00,141.90V146.50M354.70,144.20H357.30M358.00,141.90V146.50M356.70,144.20H359.30M360.50,141.90V146.50M359.20,144.20H361.80M370.70,141.90V146.50M369.40,144.20H372.00M377.00,141.90V146.50M375.70,144.20H378.30M379.00,141.90V146.50M377.70,144.20H380.30M382.00,141.90V146.50M380.70,144.20H383.30M390.00,141.90V146.50M388.70,144.20H391.30M392.00,141.90V146.50M390.70,144.20H393.30M394.00,141.90V146.50M392.70,144.20H395.30M399.00,141.90V146.50M397.70,144.20H400.30M401.00,141.90V146.50M399.70,144.20H402.30M412.00,141.90V146.50M410.70,144.20H413.30M413.50,141.90V146.50M412.20,144.20H414.80M415.00,141.90V146.50M413.70,144.20H416.30M417.00,141.90V146.50M415.70,144.20H418.30M421.40,141.90V146.50M420.10,144.20H422.70M429.00,141.90V146.50M427.70,144.20H430.30M431.50,141.90V146.50M430.20,144.20H432.80M445.00,141.90V146.50M443.70,144.20H446.30M449.60,141.90V146.50M448.30,144.20H450.90M467.50,141.90V146.50M466.20,144.20H468.80" stroke="#1A969F" stroke-width="1.2" fill="none"/>
<path d="M174.60,153.30V157.90M173.30,155.60H175.90M177.20,153.30V157.90M175.90,155.60H178.50M182.40,154.00V158.60M181.10,156.30H183.70M184.00,154.00V158.60M182.70,156.30H185.30M185.80,154.00V158.60M184.50,156.30H187.10M195.40,154.00V158.60M194.10,156.30H196.70M202.30,155.90V160.50M201.00,158.20H203.60M204.00,155.90V160.50M202.70,158.20H205.30M205.70,155.90V160.50M204.40,158.20H207.00M209.00,155.90V160.50M207.70,158.20H210.30M211.00,155.90V160.50M209.70,158.20H212.30M213.00,155.90V160.50M211.70,158.20H214.30M216.00,155.90V160.50M214.70,158.20H217.30M221.00,155.90V160.50M219.70,158.20H222.30M223.00,155.90V160.50M221.70,158.20H224.30M226.50,158.10V162.70M225.20,160.40H227.80M240.00,158.10V162.70M238.70,160.40H241.30M242.60,158.10V162.70M241.30,160.40H243.90M245.00,158.10V162.70M243.70,160.40H246.30M247.80,159.20V163.80M246.50,161.50H249.10M253.00,161.70V166.30M251.70,164.00H254.30M259.00,161.70V166.30M257.70,164.00H260.30M263.40,161.70V166.30M262.10,164.00H264.70M265.00,161.70V166.30M263.70,164.00H266.30M275.50,164.50V169.10M274.20,166.80H276.80M277.20,164.50V169.10M275.90,166.80H278.50M283.30,165.50V170.10M282.00,167.80H284.60M285.80,168.20V172.80M284.50,170.50H287.10M293.60,172.10V176.70M292.30,174.40H294.90M299.70,172.10V176.70M298.40,174.40H301.00M305.00,172.10V176.70M303.70,174.40H306.30M312.70,172.10V176.70M311.40,174.40H314.00M314.40,172.10V176.70M313.10,174.40H315.70M318.00,172.10V176.70M316.70,174.40H319.30M321.00,172.10V176.70M319.70,174.40H322.30M334.60,172.10V176.70M333.30,174.40H335.90M342.50,172.10V176.70M341.20,174.40H343.80M344.80,172.10V176.70M343.50,174.40H346.10M349.00,180.40V185.00M347.70,182.70H350.30M351.00,180.40V185.00M349.70,182.70H352.30M352.60,180.40V185.00M351.30,182.70H353.90M360.50,180.40V185.00M359.20,182.70H361.80M362.00,180.40V185.00M360.70,182.70H363.30M363.50,180.40V185.00M362.20,182.70H364.80M365.00,180.40V185.00M363.70,182.70H366.30M378.50,180.40V185.00M377.20,182.70H379.80M383.00,180.40V185.00M381.70,182.70H384.30M384.50,180.40V185.00M383.20,182.70H385.80M386.40,180.40V185.00M385.10,182.70H387.70M388.70,180.40V185.00M387.40,182.70H390.00M395.40,180.40V185.00M394.10,182.70H396.70M413.00,180.40V185.00M411.70,182.70H414.30M419.00,180.40V185.00M417.70,182.70H420.30M421.50,180.40V185.00M420.20,182.70H422.80M434.50,180.40V185.00M433.20,182.70H435.80" stroke="#8C5FB4" stroke-width="1.2" fill="none"/>
<g stroke="#000" fill="none">
<line x1="60.1" y1="47" x2="60.1" y2="346" stroke-width="1.8"/>
<line x1="59.2" y1="345.1" x2="510" y2="345.1" stroke-width="1.8"/>
<line x1="55.8" y1="332.00" x2="60" y2="332.00" stroke-width="1.2"/>
<line x1="55.8" y1="264.25" x2="60" y2="264.25" stroke-width="1.2"/>
<line x1="55.8" y1="196.50" x2="60" y2="196.50" stroke-width="1.2"/>
<line x1="55.8" y1="128.75" x2="60" y2="128.75" stroke-width="1.2"/>
<line x1="55.8" y1="61.00" x2="60" y2="61.00" stroke-width="1.2"/>
<line x1="80.70" y1="345.8" x2="80.70" y2="349.6" stroke-width="1.2"/>
<line x1="139.26" y1="345.8" x2="139.26" y2="349.6" stroke-width="1.2"/>
<line x1="197.82" y1="345.8" x2="197.82" y2="349.6" stroke-width="1.2"/>
<line x1="256.38" y1="345.8" x2="256.38" y2="349.6" stroke-width="1.2"/>
<line x1="314.94" y1="345.8" x2="314.94" y2="349.6" stroke-width="1.2"/>
<line x1="373.50" y1="345.8" x2="373.50" y2="349.6" stroke-width="1.2"/>
<line x1="432.06" y1="345.8" x2="432.06" y2="349.6" stroke-width="1.2"/>
<line x1="490.62" y1="345.8" x2="490.62" y2="349.6" stroke-width="1.2"/>
<line x1="60.3" y1="406.5" x2="60.3" y2="483.7" stroke-width="1.6"/>
<line x1="59.5" y1="482.9" x2="510.5" y2="482.9" stroke-width="1.6"/>
<line x1="80.70" y1="483.7" x2="80.70" y2="487.3" stroke-width="1.2"/>
<line x1="139.26" y1="483.7" x2="139.26" y2="487.3" stroke-width="1.2"/>
<line x1="197.82" y1="483.7" x2="197.82" y2="487.3" stroke-width="1.2"/>
<line x1="256.38" y1="483.7" x2="256.38" y2="487.3" stroke-width="1.2"/>
<line x1="314.94" y1="483.7" x2="314.94" y2="487.3" stroke-width="1.2"/>
<line x1="373.50" y1="483.7" x2="373.50" y2="487.3" stroke-width="1.2"/>
<line x1="432.06" y1="483.7" x2="432.06" y2="487.3" stroke-width="1.2"/>
<line x1="490.62" y1="483.7" x2="490.62" y2="487.3" stroke-width="1.2"/>
</g>
<g font-family='"Liberation Sans", sans-serif' fill="#111" stroke="#111" stroke-width="0.18">
<text x="10.8" y="23.7" font-size="16" font-weight="bold" stroke="#111" stroke-width="0.45">D</text>
<text x="51" y="335.30" font-size="10.8" text-anchor="end">0.00</text>
<text x="51" y="267.55" font-size="10.8" text-anchor="end">0.25</text>
<text x="51" y="199.80" font-size="10.8" text-anchor="end">0.50</text>
<text x="51" y="132.05" font-size="10.8" text-anchor="end">0.75</text>
<text x="51" y="64.30" font-size="10.8" text-anchor="end">1.00</text>
<text x="80.70" y="364" font-size="10.8" text-anchor="middle">0</text>
<text x="80.70" y="500.8" font-size="10.8" text-anchor="middle">0</text>
<text x="139.26" y="364" font-size="10.8" text-anchor="middle">10</text>
<text x="139.26" y="500.8" font-size="10.8" text-anchor="middle">10</text>
<text x="197.82" y="364" font-size="10.8" text-anchor="middle">20</text>
<text x="197.82" y="500.8" font-size="10.8" text-anchor="middle">20</text>
<text x="256.38" y="364" font-size="10.8" text-anchor="middle">30</text>
<text x="256.38" y="500.8" font-size="10.8" text-anchor="middle">30</text>
<text x="314.94" y="364" font-size="10.8" text-anchor="middle">40</text>
<text x="314.94" y="500.8" font-size="10.8" text-anchor="middle">40</text>
<text x="373.50" y="364" font-size="10.8" text-anchor="middle">50</text>
<text x="373.50" y="500.8" font-size="10.8" text-anchor="middle">50</text>
<text x="432.06" y="364" font-size="10.8" text-anchor="middle">60</text>
<text x="432.06" y="500.8" font-size="10.8" text-anchor="middle">60</text>
<text x="490.62" y="364" font-size="10.8" text-anchor="middle">70</text>
<text x="490.62" y="500.8" font-size="10.8" text-anchor="middle">70</text>
<text x="285" y="382.3" font-size="13.6" stroke="#111" stroke-width="0.18" text-anchor="middle" textLength="19.4" lengthAdjust="spacingAndGlyphs">Time</text>
<text x="285.5" y="519.8" font-size="13.6" stroke="#111" stroke-width="0.18" text-anchor="middle" textLength="18.4" lengthAdjust="spacingAndGlyphs">Time</text>
<text transform="translate(21.8,195.6) rotate(-90)" x="0" y="0" font-size="14.4" stroke="#111" stroke-width="0.08" text-anchor="middle" textLength="77.6" lengthAdjust="spacingAndGlyphs">Survival probability</text>
<text transform="translate(38.3,444) rotate(-90)" x="0" y="0" font-size="13.8" stroke="#111" stroke-width="0.15" text-anchor="middle" textLength="25" lengthAdjust="spacingAndGlyphs">Strata</text>
<text x="87.5" y="281.8" font-size="10.8" textLength="58.2" lengthAdjust="spacingAndGlyphs">p = 0.00026</text>
<text x="60.8" y="398.9" font-size="10">Number at risk</text>
<text x="110.6" y="23.8" font-size="10.4">Strata</text>
<rect x="150.30" y="15.80" width="10.5" height="10" fill="#F1D1D2" stroke="none"/>
<line x1="150.30" y1="20.80" x2="160.80" y2="20.80" stroke="#D7574B" stroke-width="1.8"/>
<line x1="155.55" y1="18.60" x2="155.55" y2="23.00" stroke="#D7574B" stroke-width="1.8"/>
<text x="164.60" y="23.80" font-size="10.5" textLength="136.2" lengthAdjust="spacingAndGlyphs">PDCD1=high, HAVCR2=high</text>
<rect x="150.30" y="31.70" width="10.5" height="10" fill="#52A2AF" fill-opacity="0.30" stroke="none"/>
<line x1="150.30" y1="36.70" x2="160.80" y2="36.70" stroke="#1A969F" stroke-width="1.8"/>
<line x1="155.55" y1="34.50" x2="155.55" y2="38.90" stroke="#1A969F" stroke-width="1.8"/>
<text x="164.60" y="39.70" font-size="10.5" textLength="131.3" lengthAdjust="spacingAndGlyphs">PDCD1=low, HAVCR2=high</text>
<rect x="313.10" y="15.80" width="10.5" height="10" fill="#82A51A" fill-opacity="0.30" stroke="none"/>
<line x1="313.10" y1="20.80" x2="323.60" y2="20.80" stroke="#6EA51E" stroke-width="1.8"/>
<line x1="318.35" y1="18.60" x2="318.35" y2="23.00" stroke="#6EA51E" stroke-width="1.8"/>
<text x="327.20" y="23.80" font-size="10.5" textLength="133.3" lengthAdjust="spacingAndGlyphs">PDCD1=high, HAVCR2=low</text>
<rect x="313.10" y="31.80" width="10.5" height="10" fill="#AA88C4" fill-opacity="0.30" stroke="none"/>
<line x1="313.10" y1="36.80" x2="323.60" y2="36.80" stroke="#8C5FB4" stroke-width="1.8"/>
<line x1="318.35" y1="34.60" x2="318.35" y2="39.00" stroke="#8C5FB4" stroke-width="1.8"/>
<text x="327.20" y="39.80" font-size="10.5" textLength="128.4" lengthAdjust="spacingAndGlyphs">PDCD1=low, HAVCR2=low</text>
<line x1="45.4" y1="416.50" x2="55.1" y2="416.50" stroke="#D7574B" stroke-width="1.8"/>
<text x="80.70" y="420.30" font-size="10.8" text-anchor="middle">443</text>
<text x="139.26" y="420.30" font-size="10.8" text-anchor="middle">357</text>
<text x="197.82" y="420.30" font-size="10.8" text-anchor="middle">277</text>
<text x="256.38" y="420.30" font-size="10.8" text-anchor="middle">159</text>
<text x="314.94" y="420.30" font-size="10.8" text-anchor="middle">84</text>
<text x="373.50" y="420.30" font-size="10.8" text-anchor="middle">36</text>
<text x="432.06" y="420.30" font-size="10.8" text-anchor="middle">5</text>
<text x="490.62" y="420.30" font-size="10.8" text-anchor="middle">0</text>
<line x1="45.4" y1="434.60" x2="55.1" y2="434.60" stroke="#6EA51E" stroke-width="1.8"/>
<text x="80.70" y="438.40" font-size="10.8" text-anchor="middle">110</text>
<text x="139.26" y="438.40" font-size="10.8" text-anchor="middle">86</text>
<text x="197.82" y="438.40" font-size="10.8" text-anchor="middle">60</text>
<text x="256.38" y="438.40" font-size="10.8" text-anchor="middle">28</text>
<text x="314.94" y="438.40" font-size="10.8" text-anchor="middle">10</text>
<text x="373.50" y="438.40" font-size="10.8" text-anchor="middle">5</text>
<text x="432.06" y="438.40" font-size="10.8" text-anchor="middle">0</text>
<text x="490.62" y="438.40" font-size="10.8" text-anchor="middle">0</text>
<line x1="45.4" y1="452.60" x2="55.1" y2="452.60" stroke="#1A969F" stroke-width="1.8"/>
<text x="80.70" y="456.40" font-size="10.8" text-anchor="middle">224</text>
<text x="139.26" y="456.40" font-size="10.8" text-anchor="middle">175</text>
<text x="197.82" y="456.40" font-size="10.8" text-anchor="middle">144</text>
<text x="256.38" y="456.40" font-size="10.8" text-anchor="middle">99</text>
<text x="314.94" y="456.40" font-size="10.8" text-anchor="middle">63</text>
<text x="373.50" y="456.40" font-size="10.8" text-anchor="middle">22</text>
<text x="432.06" y="456.40" font-size="10.8" text-anchor="middle">4</text>
<text x="490.62" y="456.40" font-size="10.8" text-anchor="middle">0</text>
<line x1="45.4" y1="470.80" x2="55.1" y2="470.80" stroke="#8C5FB4" stroke-width="1.8"/>
<text x="80.70" y="474.60" font-size="10.8" text-anchor="middle">151</text>
<text x="139.26" y="474.60" font-size="10.8" text-anchor="middle">105</text>
<text x="197.82" y="474.60" font-size="10.8" text-anchor="middle">86</text>
<text x="256.38" y="474.60" font-size="10.8" text-anchor="middle">56</text>
<text x="314.94" y="474.60" font-size="10.8" text-anchor="middle">33</text>
<text x="373.50" y="474.60" font-size="10.8" text-anchor="middle">10</text>
<text x="432.06" y="474.60" font-size="10.8" text-anchor="middle">1</text>
<text x="490.62" y="474.60" font-size="10.8" text-anchor="middle">0</text>
</g>
<rect x="0.85" y="0.85" width="518.3" height="531.3" fill="none" stroke="#000" stroke-width="1.7"/>
</svg>
</body></html>
